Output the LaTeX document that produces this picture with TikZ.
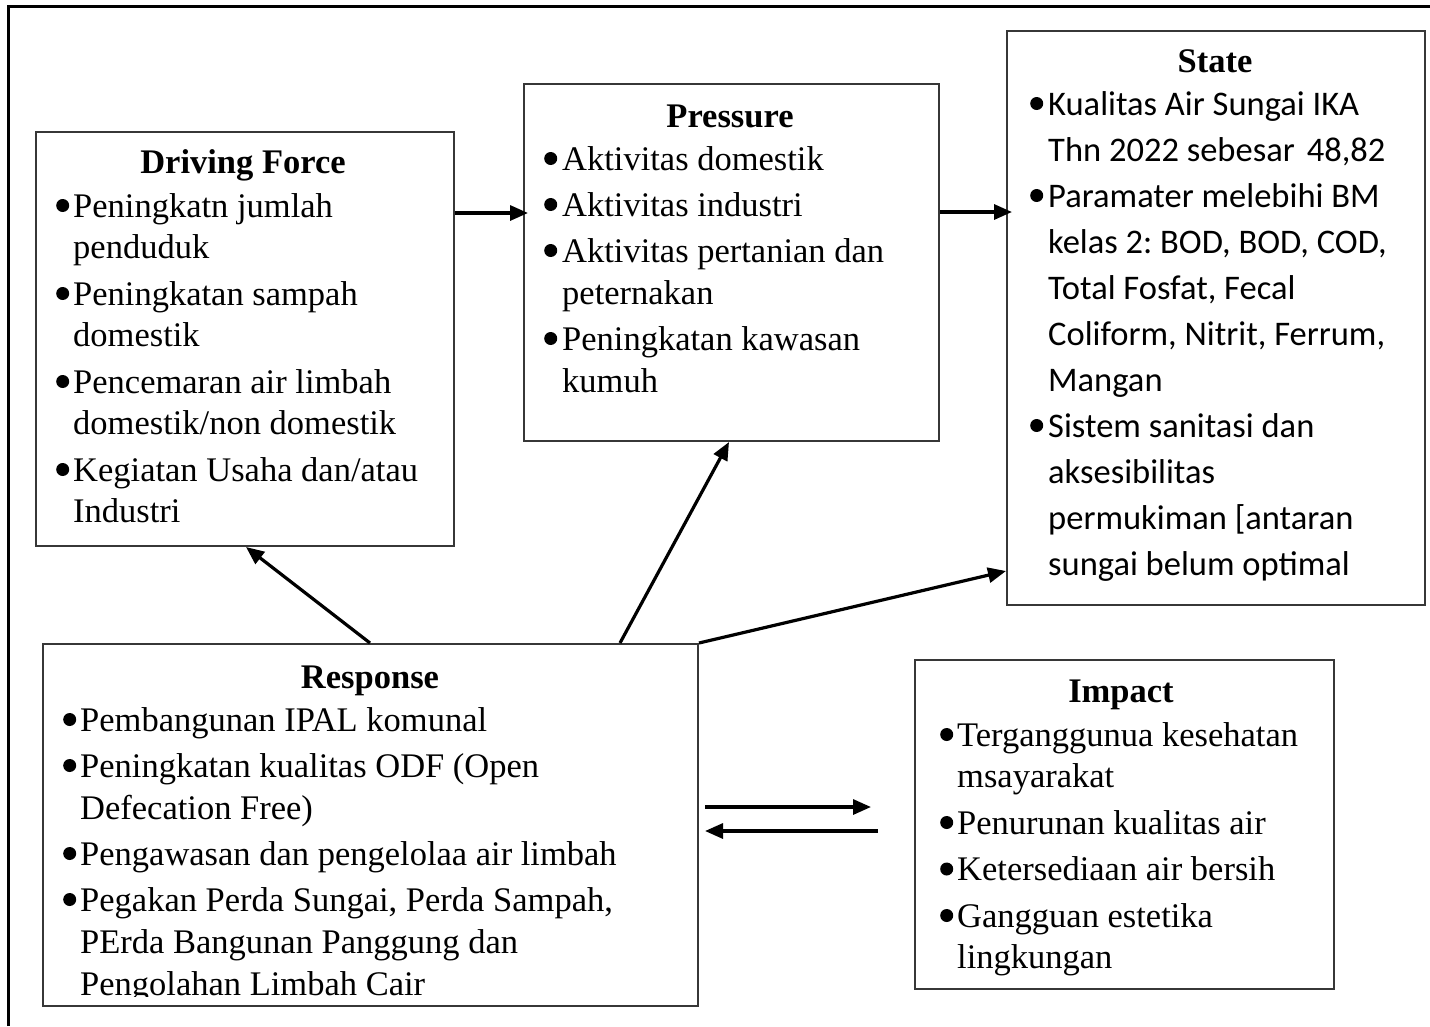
\documentclass[tikz,border=0pt]{standalone}
\usepackage{fontspec}
\setmainfont{Liberation Serif}
\newfontfamily\calfont{Carlito}
\usetikzlibrary{arrows.meta}

\definecolor{boxline}{RGB}{55,55,55}

% round bullet sitting at mid x-height
\newcommand\bul{\tikz[baseline=0pt]\fill (6.5pt,11.5pt) circle[radius=6.5pt];}
% forced line break inside a bullet paragraph (keeps the hanging indent)
\newcommand\nl{\hfil\break}
% bullet paragraph with hanging indent
\newlength\bulw
\newcommand\bitem[1]{\par\noindent\hangindent=\bulw\hangafter=1\makebox[\bulw][l]{\bul}#1}
% top-aligned body text: width, baselineskip, parskip, bullet width, content
\newcommand\bodytext[5]{\parbox[t]{#1}{\fontsize{34.5}{#2}\selectfont\frenchspacing\setlength\parskip{#3}\setlength\bulw{#4}\raggedright #5}}

\tikzset{
  panel/.style={draw=boxline, line width=2pt, inner sep=0pt, anchor=north west, fill=none},
  heading/.style={anchor=base, inner sep=0pt, font=\fontsize{34.5}{40}\selectfont\bfseries},
  bodynode/.style={anchor=base west, inner sep=0pt},
  arr/.style={line width=3.2pt, -{Triangle[length=18pt,width=15pt]}},
}

\begin{document}
\begin{tikzpicture}[x=1pt,y=-1pt]
\useasboundingbox (0,0) rectangle (1430,1026);

% outer frame (top and left edges only)
\draw[line width=3pt, line join=miter] (8,1026) -- (8,6.5) -- (1430,6.5);

% panels
\node[panel, minimum width=418pt, minimum height=414pt] (df) at (35,131) {};
\node[panel, minimum width=415pt, minimum height=357pt] (pr) at (523,83) {};
\node[panel, minimum width=418pt, minimum height=574pt] (st) at (1006,30) {};
\node[panel, minimum width=655pt, minimum height=362pt] (rs) at (42,643) {};
\node[panel, minimum width=419pt, minimum height=329pt] (im) at (914,659) {};

% Driving Force
\node[heading] (dfh) at (243,173) {Driving Force};
\node[bodynode] (dfb) at (56,217) {\bodytext{390pt}{41.5pt}{5pt}{17pt}{%
  \bitem{Peningkatn jumlah\nl penduduk}
  \bitem{Peningkatan sampah\nl domestik}
  \bitem{Pencemaran air limbah\nl domestik/non domestik}
  \bitem{Kegiatan Usaha dan/atau\nl Industri}}};

% Pressure
\node[heading] (prh) at (730,127) {Pressure};
\node[bodynode] (prb) at (544,170) {\bodytext{390pt}{42pt}{4pt}{18pt}{%
  \bitem{Aktivitas domestik}
  \bitem{Aktivitas industri}
  \bitem{Aktivitas pertanian dan\nl peternakan}
  \bitem{Peningkatan kawasan\nl kumuh}}};

% State
\node[heading] (sth) at (1215,72) {State};
\node[bodynode] (stb) at (1030,115) {\calfont\bodytext{390pt}{46pt}{0pt}{18pt}{\calfont
  \bitem{Kualitas Air Sungai IKA\nl Thn 2022 sebesar\hspace{12pt}48,82}
  \bitem{Paramater melebihi BM\nl kelas 2: BOD, BOD, COD,\nl Total Fosfat, Fecal\nl Coliform, Nitrit, Ferrum,\nl Mangan}
  \bitem{Sistem sanitasi dan\nl aksesibilitas\nl permukiman [antaran\nl sungai belum optimal}}};

% Response (last line cut by the panel bottom)
\node[heading] (rsh) at (370,688) {Response};
\begin{scope}
  \clip (40,640) rectangle (700,996);
  \node[bodynode] (rsb) at (63,731) {\bodytext{620pt}{42pt}{4pt}{17pt}{%
    \bitem{Pembangunan IPAL komunal}
    \bitem{Peningkatan kualitas ODF (Open\nl Defecation Free)}
    \bitem{Pengawasan dan pengelolaa air limbah}
    \bitem{Pegakan Perda Sungai, Perda Sampah,\nl PErda Bangunan Panggung dan\nl Pengolahan Limbah Cair}}};
\end{scope}

% Impact
\node[heading] (imh) at (1121,702) {Impact};
\node[bodynode] (imb) at (940,746) {\bodytext{390pt}{41.5pt}{5pt}{17pt}{%
  \bitem{Terganggunua kesehatan\nl msayarakat}
  \bitem{Penurunan kualitas air}
  \bitem{Ketersediaan air bersih}
  \bitem{Gangguan estetika\nl lingkungan}}};

% connectors
\draw[arr] ([yshift=-82pt]df.north east) -- ([yshift=-130pt,xshift=5pt]pr.north west);
\draw[arr] ([yshift=-129pt]pr.north east) -- ([yshift=-182pt,xshift=6pt]st.north west);
\draw[arr] ([xshift=328pt]rs.north west) -- ([xshift=211pt]df.south west);
\draw[arr] ([xshift=578pt]rs.north west) -- ([xshift=206pt]pr.south west);
\draw[arr] (rs.north east) -- ([yshift=35pt]st.south west);

\coordinate (fwdA) at (705,807);
\coordinate (fwdB) at (871,807);
\coordinate (backA) at (878,831);
\coordinate (backB) at (705,831);
\draw[arr] (fwdA) -- (fwdB);
\draw[arr] (backA) -- (backB);
\end{tikzpicture}
\end{document}
